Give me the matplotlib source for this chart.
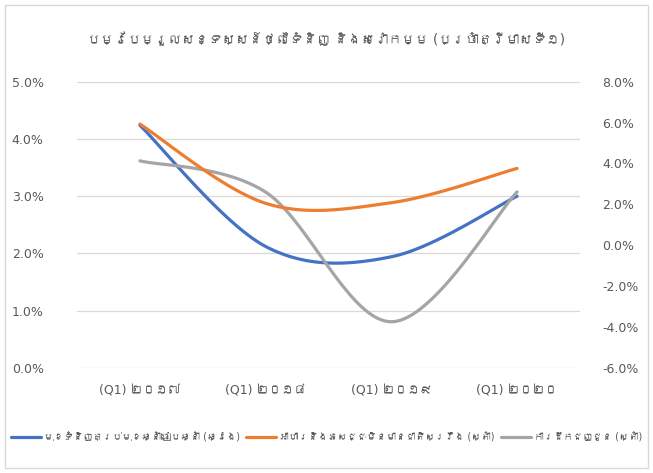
import matplotlib
matplotlib.use('Agg')
import matplotlib.pyplot as plt
import matplotlib.patches as patches
from matplotlib import font_manager
from matplotlib.ticker import FuncFormatter
import numpy as np

# data
categories = ['(Q1) ២០១៧', '(Q1) ២០១៨', '(Q1) ២០១៩', '(Q1) ២០២០']
all_items = [4.24, 2.12, 1.94, 3.00]          # left axis, %
food_bev = [5.93, 2.05, 2.08, 3.76]           # right axis, %
transport = [4.13, 2.60, -3.75, 2.61]         # right axis, %

series_names = ['មុខទំនិញគ្រប់មុខឆ្នាំធៀបឆ្នាំ (ឆ្វេង)',
                'អាហារនិងភេសជ្ជៈមិនមានជាតិស្រវឹង (ស្តាំ)',
                'ការដឹកជញ្ជូន (ស្តាំ)']
title = 'បម្រែបម្រួលសន្ទស្សន៍ថ្លៃទំនិញ និងសេវាកម្ម (ប្រចាំត្រីមាសទី១)'

BLUE = '#4472C4'
ORANGE = '#ED7D31'
GRAY = '#A5A5A5'
TXT = '#595959'
GRID = '#D9D9D9'


def find_khmer_font():
    # look for any installed font that has Khmer glyphs
    try:
        from fontTools.ttLib import TTFont
    except Exception:
        return None
    for f in font_manager.fontManager.ttflist:
        try:
            cmap = TTFont(f.fname, fontNumber=0, lazy=True).getBestCmap()
        except Exception:
            continue
        if cmap and 0x1780 in cmap:
            return f.name
    return None


khmer = find_khmer_font()
# latin glyphs from DejaVu, khmer glyphs fall through to the khmer font
families = ['DejaVu Sans'] if khmer is None else ['DejaVu Sans', khmer]
plt.rcParams['font.family'] = families


def smooth(xs, ys, n=40):
    # Excel-style smoothed line: cubic bezier with catmull-rom control points
    pts = np.column_stack([xs, ys]).astype(float)
    out = []
    for i in range(len(pts) - 1):
        p0 = pts[i - 1] if i > 0 else pts[i]
        p1 = pts[i]
        p2 = pts[i + 1]
        p3 = pts[i + 2] if i + 2 < len(pts) else pts[i + 1]
        c1 = p1 + (p2 - p0) / 6.0
        c2 = p2 - (p3 - p1) / 6.0
        t = np.linspace(0, 1, n)[:, None]
        seg = ((1 - t) ** 3) * p1 + 3 * ((1 - t) ** 2) * t * c1 + 3 * (1 - t) * t ** 2 * c2 + t ** 3 * p2
        out.append(seg if i == 0 else seg[1:])
    seg = np.vstack(out)
    return seg[:, 0], seg[:, 1]


fig = plt.figure(figsize=(6.53, 4.73), dpi=100)
fig.patches.append(patches.Rectangle((5 / 653, 5 / 473), 643 / 653, 463 / 473,
                                     transform=fig.transFigure, fill=False,
                                     ec=GRID, lw=1.0))

ax = fig.add_axes([77 / 653, 1 - 367.7 / 473, 503 / 653, 285.9 / 473])
ax2 = ax.twinx()

x = np.arange(len(categories))

sx, sy = smooth(x, all_items)
l1, = ax.plot(sx, sy, color=BLUE, lw=2.3, solid_capstyle='round', zorder=3)
sx, sy = smooth(x, food_bev)
l2, = ax2.plot(sx, sy, color=ORANGE, lw=2.3, solid_capstyle='round', zorder=3)
sx, sy = smooth(x, transport)
l3, = ax2.plot(sx, sy, color=GRAY, lw=2.3, solid_capstyle='round', zorder=2)

ax.set_xlim(-0.5, len(categories) - 0.5)
ax.set_ylim(0, 5)
ax.set_yticks(np.arange(0, 5.01, 1))
ax2.set_ylim(-6, 8)
ax2.set_yticks(np.arange(-6, 8.01, 2))
pct = FuncFormatter(lambda v, p: f'{v:.1f}%')
ax.yaxis.set_major_formatter(pct)
ax2.yaxis.set_major_formatter(pct)

ax.set_xticks(x)
ax.set_xticklabels(categories)
ax.grid(axis='y', color=GRID, lw=0.9)
ax.set_axisbelow(True)

for a in (ax, ax2):
    for s in a.spines.values():
        s.set_visible(False)
    a.tick_params(length=0, labelsize=9, labelcolor=TXT)
ax.tick_params(axis='y', pad=24)
ax2.tick_params(axis='y', pad=16)
ax.tick_params(axis='x', pad=12)

renderer = fig.canvas.get_renderer()

# title: shrink to fit roughly the width it takes in the reference
t = fig.text(0.5, 1 - 40 / 473, title, ha='center', va='center',
             fontsize=14, color=TXT)
w = t.get_window_extent(renderer).width
t.set_fontsize(min(14, 14 * 480 / w))


def make_legend(fs):
    px = fs * 100 / 72
    return fig.legend([l1, l2, l3], series_names, loc='center', ncol=3,
                      bbox_to_anchor=(0.5, 1 - 437 / 473), frameon=False,
                      fontsize=fs, handlelength=30 / px, handletextpad=3 / px,
                      columnspacing=6 / px, labelcolor=TXT)


leg = make_legend(9)
w = leg.get_window_extent(renderer).width
leg.remove()
leg = make_legend(min(9, 9 * 612 / w))

plt.savefig('out.png', dpi=100, facecolor='white')
plt.close()
